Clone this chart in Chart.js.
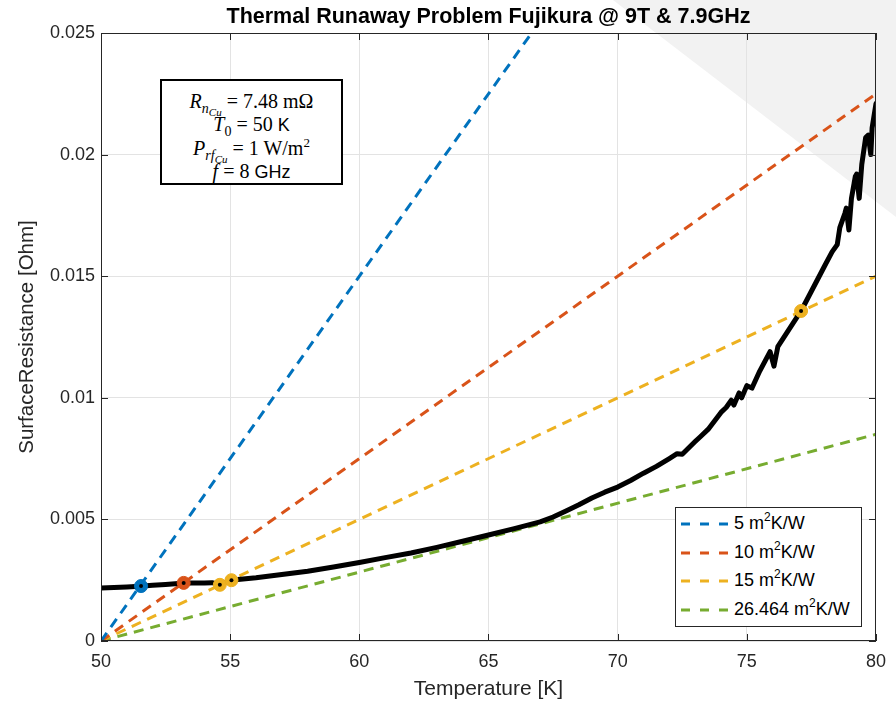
<!DOCTYPE html>
<html>
<head>
<meta charset="utf-8">
<title>Thermal Runaway Problem Fujikura</title>
<script src="https://cdn.jsdelivr.net/npm/chart.js@4.4.0/dist/chart.umd.min.js"></script>
<style>
    body { margin: 0; background: #fff; }
    #wrap { position: relative; width: 896px; height: 704px; overflow: hidden; font-family: "Liberation Sans", Arial, sans-serif; }
    #shade { position: absolute; left: 0; top: 0; width: 896px; height: 704px; background: #f2f2f2; clip-path: polygon(613px 0, 896px 0, 896px 217px); }
    canvas { position: absolute; left: 0; top: 0; }
    #title { position: absolute; left: 101px; top: 3px; width: 775px; text-align: center; font-size: 21.5px; font-weight: bold; line-height: 26px; color: #000; white-space: nowrap; }
    #note { position: absolute; left: 160px; top: 79px; width: 179px; height: 93px; padding-top: 9px; border: 2px solid #000; background: #fff;
            font-family: "Liberation Serif", "DejaVu Serif", serif; font-size: 20px; line-height: 23px; text-align: center; color: #000; }
    #note sub { font-size: 14px; line-height: 0; vertical-align: -5px; }
    #note sub sub { font-size: 11px; vertical-align: -3px; }
    #note sup { font-size: 13px; line-height: 0; vertical-align: 8px; }
    #note .sans { font-family: "Liberation Sans", Arial, sans-serif; font-size: 18px; }
    #legend { position: absolute; left: 675px; top: 507px; width: 185px; height: 118px; border: 1px solid #262626; background: #fff; }
    #legend .row { position: absolute; left: 0; height: 28px; width: 185px; }
    #legend svg { position: absolute; left: 5px; top: 12px; }
    #legend span { position: absolute; left: 58px; top: 3px; font-size: 18px; color: #000; white-space: nowrap; }
    #legend sup { font-size: 12px; line-height: 0; vertical-align: 8px; }
</style>
</head>
<body>
<div id="wrap">
    <div id="shade"></div>
    <canvas id="runawayChart" width="896" height="704"></canvas>
    <div id="title">Thermal Runaway Problem Fujikura @ 9T &amp; 7.9GHz</div>
    <div id="note">
        <div><i>R</i><sub><i>n</i><sub><i>Cu</i></sub></sub> = 7.48 mΩ</div>
        <div><i>T</i><sub>0</sub> = 50 <span class="sans">K</span></div>
        <div><i>P</i><sub><i>rf</i><sub><i>Cu</i></sub></sub> = 1 W/m<sup>2</sup></div>
        <div><i>f</i> = 8 <span class="sans">GHz</span></div>
    </div>
    <div id="legend"></div>
</div>
<script>
const tempK = [50, 50.5, 51, 51.5, 52, 52.5, 53, 53.5, 54, 54.3, 54.6, 55, 55.5, 56, 57, 58, 59, 60,
    61, 62, 63, 64, 65, 66, 67, 67.5, 68, 68.5, 69, 69.5, 70, 70.5, 71, 71.5, 72, 72.3, 72.5, 73, 73.2, 73.5,
    74, 74.2, 74.4, 74.5, 74.7, 74.8, 75, 75.2, 75.5, 75.7, 75.9, 76.05, 76.2, 77.1, 78, 78.3,
    78.5, 78.6, 78.8, 78.85, 78.95, 79.05, 79.2, 79.25, 79.35, 79.45, 79.6, 79.7, 79.8, 79.85, 80];
const surfR = [0.00218, 0.00220, 0.00222, 0.00225, 0.00229, 0.00232, 0.00236, 0.00238, 0.00238, 0.00240, 0.00231, 0.00250, 0.00255, 0.00260, 0.00273, 0.00287, 0.00304, 0.00323,
    0.00343, 0.00362, 0.00385, 0.00410, 0.00436, 0.00462, 0.00490, 0.00510, 0.00535, 0.00560, 0.00588, 0.00612, 0.00633, 0.00660, 0.00690, 0.00718, 0.00750, 0.00770, 0.00768, 0.00820, 0.00840, 0.00870,
    0.00940, 0.00960, 0.00990, 0.00970, 0.01020, 0.01000, 0.01050, 0.01040, 0.01110, 0.01150, 0.01190, 0.01130, 0.01210, 0.01357, 0.01540, 0.01600,
    0.01630, 0.01700, 0.01760, 0.01780, 0.01690, 0.01820, 0.01910, 0.01920, 0.01820, 0.01960, 0.02070, 0.02080, 0.02000, 0.02110, 0.02210];

// Dashed load lines for each thermal resistance (end points at 50 K and 80 K)
const rthLabels = ['5', '10', '15', '26.464'];
const lineColors = ['#0072BD', '#D95319', '#EDB120', '#77AC30'];
const lineT = [50, 80];
const lineR = [[0, 0.045], [0, 0.0225], [0, 0.015], [0, 0.0085]];

// Intersection markers
const crossT = [51.55, 53.2, 54.6, 55.05, 77.1];
const crossR = [0.00226, 0.00239, 0.00231, 0.00250, 0.01357];
const crossColor = ['#0072BD', '#D95319', '#EDB120', '#EDB120', '#EDB120'];

// Axis ticks
const xTicks = [50, 55, 60, 65, 70, 75, 80];
const yTicks = [0, 0.005, 0.01, 0.015, 0.02, 0.025];
const yTickLabels = ['0', '0.005', '0.01', '0.015', '0.02', '0.025'];

const axisColor = '#262626';
const fontFamily = '"Liberation Sans", Arial, sans-serif';

// MATLAB style box with inward ticks
const boxPlugin = {
    id: 'matlabBox',
    afterDatasetsDraw(chart) {
        const { ctx, chartArea: a, scales: { x, y } } = chart;
        ctx.save();
        ctx.strokeStyle = axisColor;
        ctx.lineWidth = 1;
        ctx.beginPath();
        xTicks.forEach(v => {
            const px = Math.round(x.getPixelForValue(v)) + 0.5;
            ctx.moveTo(px, a.bottom); ctx.lineTo(px, a.bottom - 7);
            ctx.moveTo(px, a.top); ctx.lineTo(px, a.top + 7);
        });
        yTicks.forEach(v => {
            const py = Math.round(y.getPixelForValue(v)) + 0.5;
            ctx.moveTo(a.left, py); ctx.lineTo(a.left + 7, py);
            ctx.moveTo(a.right, py); ctx.lineTo(a.right - 7, py);
        });
        ctx.stroke();
        ctx.strokeRect(a.left + 0.5, a.top + 0.5, a.width - 1, a.height - 1);
        ctx.restore();
    }
};

function buildDatasets() {
    const sets = [];
    // black dots on top of markers
    sets.push({
        data: crossT.map((t, i) => ({ x: t, y: crossR[i] })),
        pointRadius: 2, pointBackgroundColor: '#000', pointBorderWidth: 0,
        showLine: false, order: 0
    });
    sets.push({
        data: crossT.map((t, i) => ({ x: t, y: crossR[i] })),
        pointRadius: 6.5, pointBackgroundColor: crossColor, pointBorderColor: crossColor, pointBorderWidth: 1,
        showLine: false, order: 1
    });
    sets.push({
        data: tempK.map((t, i) => ({ x: t, y: surfR[i] })),
        borderColor: '#000', borderWidth: 5, borderJoinStyle: 'round', borderCapStyle: 'round',
        pointRadius: 0, showLine: true, order: 2
    });
    lineR.forEach((r, k) => {
        sets.push({
            data: lineT.map((t, i) => ({ x: t, y: r[i] })),
            borderColor: lineColors[k], borderWidth: 3, borderDash: [10, 7],
            pointRadius: 0, showLine: true, order: 3
        });
    });
    return sets;
}

function buildLegend() {
    const box = document.getElementById('legend');
    box.innerHTML = rthLabels.map((lab, i) => `
        <div class="row" style="top:${2 + i * 28.5}px">
            <svg width="50" height="4"><line x1="0" y1="2" x2="48" y2="2" stroke="${lineColors[i]}" stroke-width="3" stroke-dasharray="9 10"/></svg>
            <span>${lab} m<sup>2</sup>K/W</span>
        </div>`).join('');
}

function initChart() {
    const ctx = document.getElementById('runawayChart').getContext('2d');
    new Chart(ctx, {
        type: 'scatter',
        data: { datasets: buildDatasets() },
        options: {
            responsive: false,
            animation: false,
            devicePixelRatio: 1,
            layout: { padding: { left: 0, right: 20, top: 33, bottom: 0 } },
            plugins: {
                legend: { display: false },
                tooltip: { enabled: false }
            },
            scales: {
                x: {
                    type: 'linear', min: 50, max: 80,
                    afterFit: s => { s.height = 63; },
                    afterBuildTicks: s => { s.ticks = xTicks.map(v => ({ value: v })); },
                    grid: { color: '#e3e3e3', drawTicks: false },
                    border: { display: false },
                    ticks: { color: axisColor, padding: 10, maxRotation: 0, font: { family: fontFamily, size: 18 } },
                    title: { display: true, text: 'Temperature [K]', color: axisColor, padding: { top: 0, bottom: 2 },
                             font: { family: fontFamily, size: 21 } }
                },
                y: {
                    type: 'linear', min: 0, max: 0.025,
                    afterFit: s => { s.width = 101; },
                    afterBuildTicks: s => { s.ticks = yTicks.map(v => ({ value: v })); },
                    grid: { color: '#e3e3e3', drawTicks: false },
                    border: { display: false },
                    ticks: {
                        color: axisColor, padding: 6,
                        font: { family: fontFamily, size: 18 },
                        callback: v => yTickLabels[yTicks.indexOf(v)] ?? ''
                    },
                    title: { display: true, text: 'SurfaceResistance [Ohm]', color: axisColor, padding: { top: 15, bottom: 0 },
                             font: { family: fontFamily, size: 20.5 } }
                }
            }
        },
        plugins: [boxPlugin]
    });
}

document.addEventListener('DOMContentLoaded', () => {
    buildLegend();
    initChart();
});
</script>
</body>
</html>
